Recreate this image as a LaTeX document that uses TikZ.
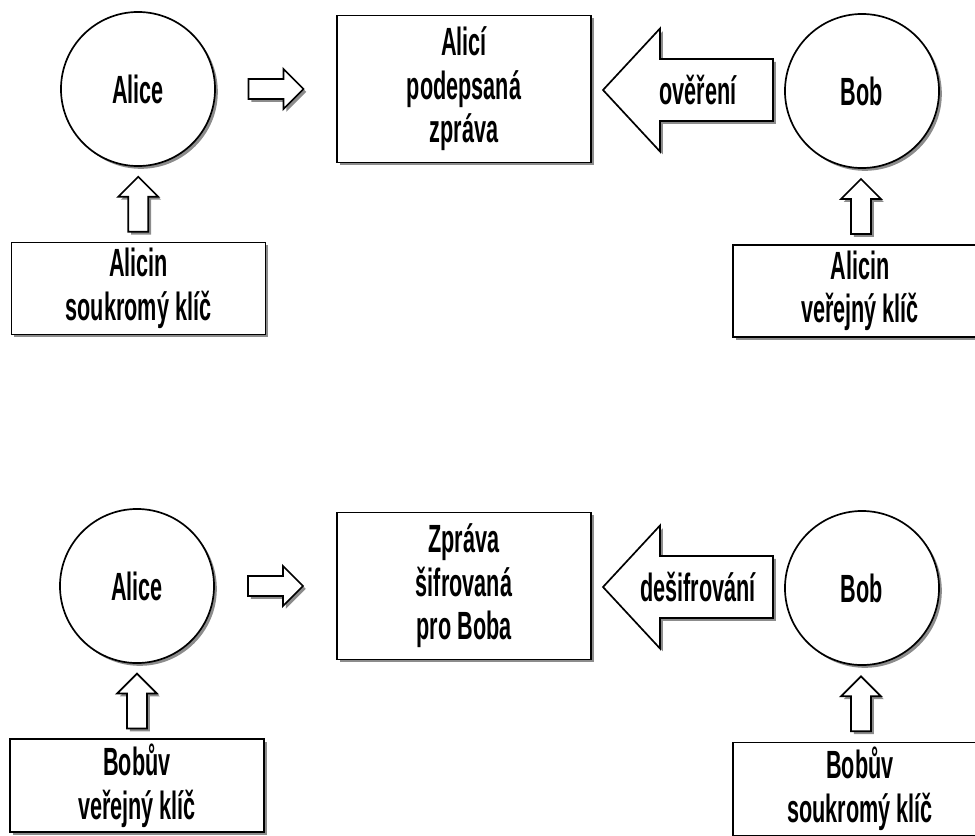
\documentclass[tikz,border=0pt]{standalone}
\usepackage{fontspec}
\newfontfamily\narrowfont[FakeStretch=0.55]{Liberation Sans}
\usetikzlibrary{shadows,calc}

\begin{document}
\begin{tikzpicture}[x=0.025cm, y=-0.025cm, line width=1.2pt,
        font=\narrowfont\bfseries\fontsize{28}{31}\selectfont,
        shade/.style={drop shadow={shadow xshift=0.07cm, shadow yshift=-0.07cm, fill=black!45, opacity=1}},
        every circle node/.style={draw, fill=white, minimum size=3.85cm, inner sep=0pt, shade},
        msgbox/.style={draw, fill=white, minimum width=6.35cm, minimum height=3.68cm, align=center, shade},
        keybox/.style={draw, fill=white, minimum width=6.35cm, minimum height=2.3cm, align=center, shade},
        uparrow/.pic={\draw[fill=white, shade] (-10,27.5) -- (-10,-7.5) -- (-20,-7.5) -- (0,-27.5) -- (20,-7.5) -- (10,-7.5) -- (10,27.5) -- cycle;},
        rightarrow/.pic={\draw[fill=white, shade] (-27.5,-10) -- (7.5,-10) -- (7.5,-20) -- (27.5,0) -- (7.5,20) -- (7.5,10) -- (-27.5,10) -- cycle;},
        bigarrow/.pic={\draw[fill=white, shade] (85,-31) -- (-28,-31) -- (-28,-61.5) -- (-85,0) -- (-28,61.5) -- (-28,31) -- (85,31) -- cycle;}]
        \useasboundingbox (0, 0) rectangle (975, 836);
        \clip (0, 0) rectangle (975, 836);
        % podpis
        \draw (138, 89) node(alice)[circle]{Alice};
        \draw (464, 89) node(signed)[msgbox]{Alicí\\podepsaná\\zpráva};
        \draw (862, 91) node(bob)[circle]{Bob};
        \draw (138.5, 288.5) node(akey)[keybox]{Alicin\\soukromý klíč};
        \draw (860, 291) node(bkey)[keybox]{Alicin\\veřejný klíč};
        \draw ($(akey.north)!0.5!(alice.south)$) pic{uparrow};
        \draw ($(bkey.north)!0.5!(bob.south)$) pic{uparrow};
        \draw ($(alice.east)!0.5!(signed.west)$) pic{rightarrow};
        \coordinate (verarr) at ($(signed.east)!0.5!(bob.west)$);
        \draw (verarr) pic{bigarrow};
        \draw ($(verarr)+(10, 0)$) node(verify){ověření};
        % sifrovani
        \draw (137, 586) node(alice2)[circle]{Alice};
        \draw (464, 586) node(cipher)[msgbox]{Zpráva\\šifrovaná\\pro Boba};
        \draw (862, 588) node(bob2)[circle]{Bob};
        \draw (137, 785.5) node(akey2)[keybox]{Bobův\\veřejný klíč};
        \draw (860, 789) node(bkey2)[keybox]{Bobův\\soukromý klíč};
        \draw ($(akey2.north)!0.5!(alice2.south)$) pic{uparrow};
        \draw ($(bkey2.north)!0.5!(bob2.south)$) pic{uparrow};
        \draw ($(alice2.east)!0.5!(cipher.west)$) pic{rightarrow};
        \coordinate (decarr) at ($(cipher.east)!0.5!(bob2.west)$);
        \draw (decarr) pic{bigarrow};
        \draw ($(decarr)+(10, 0)$) node(decrypt){dešifrování};
\end{tikzpicture}
\end{document}
